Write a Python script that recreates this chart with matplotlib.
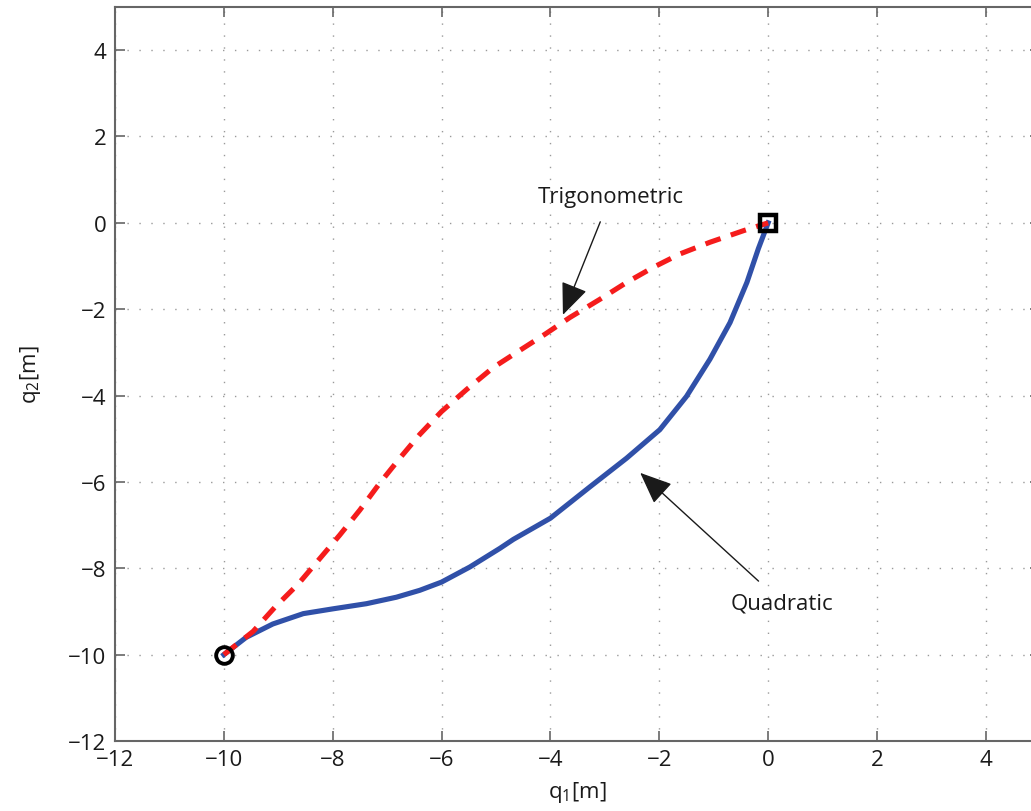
import matplotlib
matplotlib.use("Agg")
import matplotlib.pyplot as plt

# trajectories
trig_q1 = [-10, -9.46, -9.06, -8.63, -8.24, -7.87, -7.5, -7.13, -6.76, -6.4, -6.0, -5.54,
           -5.05, -4.62, -4.1, -3.64, -3.09, -2.6, -2.11, -1.62, -1.07, -0.45, 0]
trig_q2 = [-10, -9.46, -8.9, -8.36, -7.78, -7.23, -6.65, -6.02, -5.44, -4.9, -4.37, -3.86,
           -3.35, -3.0, -2.58, -2.19, -1.77, -1.38, -1.03, -0.72, -0.45, -0.18, 0]

quad_q1 = [-10, -9.59, -9.1, -8.54, -8.0, -7.38, -6.83, -6.4, -6.0, -5.48, -4.93, -4.68,
           -4.0, -3.27, -2.6, -1.99, -1.5, -1.07, -0.7, -0.39, -0.18, 0]
quad_q2 = [-10, -9.6, -9.29, -9.05, -8.94, -8.82, -8.67, -8.51, -8.32, -7.97, -7.54, -7.33,
           -6.84, -6.11, -5.45, -4.79, -4.02, -3.16, -2.31, -1.38, -0.6, 0]

start = (-10, -10)
goal = (0, 0)
ticks = [-12, -10, -8, -6, -4, -2, 0, 2, 4]

plt.rcParams.update({"font.family": ["Open Sans", "DejaVu Sans"], "font.size": 16,
                     "mathtext.fontset": "custom", "mathtext.rm": "Open Sans",
                     "mathtext.it": "Open Sans", "axes.unicode_minus": True})

INK = "#1a1a1a"
fig = plt.figure(figsize=(10.31, 8.12), dpi=100)
ax = fig.add_axes([0.1115, 0.0862, 0.8975, 0.904])

ax.plot(quad_q1, quad_q2, color="#3050a8", lw=3.7, zorder=3, solid_joinstyle="round")
ax.plot(trig_q1, trig_q2, color="#f51c1c", lw=3.7, ls=(0, (3.1, 2.1)), zorder=3)
ax.plot(*start, "o", ms=12, mfc="none", mec="black", mew=2.8, zorder=4)
ax.plot(*goal, "s", ms=11, mfc="none", mec="black", mew=3.2, zorder=4)

arrow = dict(arrowstyle="-|>,head_length=1.0,head_width=0.42", color=INK,
             lw=1.0, shrinkA=9, shrinkB=0, mutation_scale=20)
ax.annotate("Trigonometric", xy=(-3.77, -2.13), xytext=(-2.9, 0.6), ha="center", va="center",
            fontsize=16, color=INK, arrowprops=arrow)
ax.annotate("Quadratic", xy=(-2.35, -5.79), xytext=(0.26, -8.8), ha="center", va="center",
            fontsize=16, color=INK, arrowprops=arrow)

ax.set_xlim(-12, 5)
ax.set_ylim(-12, 5)
ax.set_xticks(ticks)
ax.set_yticks(ticks)
ax.grid(True, color="#9a9a9a", ls=(0, (1, 7.6)), lw=1)
ax.tick_params(direction="in", length=7, width=1.2, color="#666666", top=True, right=True,
               labelsize=16, labelcolor=INK, pad=6)
for s in ax.spines.values():
    s.set_color("#666666")
    s.set_linewidth(1.5)

ax.set_xlabel("q$_1$[m]", fontsize=16, color=INK, labelpad=6)
ax.set_ylabel("q$_2$[m]", fontsize=16, color=INK, labelpad=18)

fig.savefig("out.png", dpi=100)
